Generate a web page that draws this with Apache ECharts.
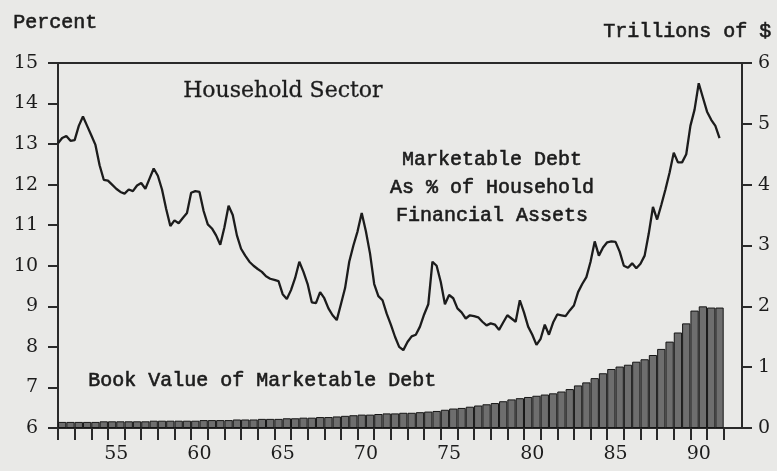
<!DOCTYPE html>
<html>
<head>
<meta charset="utf-8">
<script src="https://cdn.jsdelivr.net/npm/echarts@6/dist/echarts.min.js"></script>
<style>
  html, body { margin: 0; padding: 0; background: #e9e9e7; }
  #chart { width: 777px; height: 471px; }
</style>
</head>
<body>
<div id="chart"></div>
<script>
// Marketable debt as % of household financial assets (quarterly, 1952Q1 - 1991Q4)
var lineStartYear = 1952;
var debtSharePct = [
    13.02, 13.15, 13.20, 13.08,   // 1952
    13.10, 13.45, 13.68, 13.45,   // 1953
    13.22, 12.98, 12.48, 12.12,   // 1954
    12.10, 12.00, 11.90, 11.82,   // 1955
    11.78, 11.88, 11.84, 11.98,   // 1956
    12.04, 11.90, 12.15, 12.40,   // 1957
    12.22, 11.88, 11.40, 10.98,   // 1958
    11.12, 11.05, 11.18, 11.30,   // 1959
    11.80, 11.84, 11.82, 11.35,   // 1960
    11.02, 10.92, 10.75, 10.52,   // 1961
    10.95, 11.48, 11.25, 10.75,   // 1962
    10.42, 10.25, 10.10, 10.00,   // 1963
    9.92, 9.85, 9.74, 9.68,       // 1964
    9.65, 9.62, 9.30, 9.18,       // 1965
    9.40, 9.70, 10.10, 9.85,      // 1966
    9.55, 9.10, 9.08, 9.35,       // 1967
    9.20, 8.95, 8.78, 8.66,       // 1968
    9.05, 9.45, 10.10, 10.50,     // 1969
    10.85, 11.30, 10.85, 10.30,   // 1970
    9.55, 9.25, 9.15, 8.82,       // 1971
    8.55, 8.25, 8.00, 7.92,       // 1972
    8.12, 8.26, 8.30, 8.50,       // 1973
    8.80, 9.05, 10.10, 10.00,     // 1974
    9.60, 9.05, 9.28, 9.20,       // 1975
    8.95, 8.85, 8.70, 8.78,       // 1976
    8.76, 8.73, 8.62, 8.53,       // 1977
    8.58, 8.55, 8.42, 8.60,       // 1978
    8.78, 8.70, 8.62, 9.15,       // 1979
    8.85, 8.50, 8.30, 8.05,       // 1980
    8.20, 8.55, 8.30, 8.60,       // 1981
    8.80, 8.78, 8.76, 8.90,       // 1982
    9.02, 9.35, 9.55, 9.72,       // 1983
    10.10, 10.60, 10.25, 10.45,   // 1984
    10.58, 10.60, 10.59, 10.35,   // 1985
    10.00, 9.95, 10.06, 9.94,     // 1986
    10.05, 10.25, 10.80, 11.45,   // 1987
    11.14, 11.50, 11.88, 12.30,   // 1988
    12.79, 12.55, 12.55, 12.75,   // 1989
    13.45, 13.85, 14.50, 14.15,   // 1990
    13.80, 13.60, 13.45, 13.15    // 1991
];

// book value of marketable debt, trillions of $ (half-yearly, 1952H1 - 1991H2)
var barStartYear = 1952;
var bookValueTrn = [
    0.10, 0.10,  0.10, 0.10,  0.10, 0.11,  0.11, 0.11,  0.11, 0.11,   // 52-56
    0.11, 0.12,  0.12, 0.12,  0.12, 0.12,  0.12, 0.13,  0.13, 0.13,   // 57-61
    0.13, 0.14,  0.14, 0.14,  0.15, 0.15,  0.15, 0.16,  0.16, 0.17,   // 62-66
    0.17, 0.18,  0.18, 0.19,  0.20, 0.21,  0.22, 0.22,  0.23, 0.24,   // 67-71
    0.24, 0.25,  0.25, 0.26,  0.27, 0.28,  0.30, 0.32,  0.33, 0.35,   // 72-76
    0.37, 0.39,  0.41, 0.44,  0.47, 0.49,  0.51, 0.53,  0.55, 0.57,   // 77-81
    0.60, 0.64,  0.70, 0.75,  0.82, 0.90,  0.97, 1.01,  1.04, 1.09,   // 82-86
    1.13, 1.20,  1.30, 1.42,  1.57, 1.72,  1.93, 2.00,  1.98, 1.98    // 87-91
];

// axis ticks and labels
var tickYears = [];
for (var y = 1952; y <= 1992; y++) tickYears.push(y);
var labelYears = [1955, 1960, 1965, 1970, 1975, 1980, 1985, 1990];
var yearLabels = ['55', '60', '65', '70', '75', '80', '85', '90'];

var INK = '#1c1c1c';
var SERIF = '"DejaVu Serif", serif';
var MONO = '"Liberation Mono", monospace';

// typewriter-ish text: normal weight with a thin stroke to thicken it a bit
function typed(text, size) {
    return { text: text, font: size + 'px ' + MONO, fill: INK, stroke: INK, lineWidth: 0.6 };
}

var chart = echarts.init(document.getElementById('chart'));

var lineData = debtSharePct.map(function(v, i) {
    return [lineStartYear + i / 4, v];
});
var barData = bookValueTrn.map(function(v, i) {
    return [barStartYear + i / 2 + 0.25, v];
});

var noteStyle = typed('Marketable Debt\nAs % of Household\nFinancial Assets', 20);
noteStyle.align = 'center';
noteStyle.verticalAlign = 'top';
noteStyle.lineHeight = 28;

var option = {
    backgroundColor: '#e9e9e7',
    animation: false,
    grid: {
        left: 58,
        right: 35,
        top: 63,
        bottom: 43,
        show: true,
        borderColor: '#2a2a2a',
        borderWidth: 2
    },
    xAxis: {
        type: 'value',
        min: 1952,
        max: 1993.1,
        splitLine: { show: false },
        axisLine: { lineStyle: { color: '#2a2a2a', width: 2 } },
        axisTick: {
            customValues: tickYears,
            inside: false,
            length: 12,
            lineStyle: { color: '#2a2a2a', width: 2 }
        },
        axisLabel: {
            customValues: labelYears.map(function(y) { return y + 0.5; }),
            margin: 17,
            color: INK,
            fontFamily: SERIF,
            fontSize: 19,
            formatter: function(v) {
                var idx = labelYears.indexOf(Math.floor(v));
                return idx >= 0 ? yearLabels[idx] : '';
            }
        }
    },
    yAxis: [
        {
            type: 'value',
            position: 'left',
            min: 6,
            max: 15,
            interval: 1,
            splitLine: { show: false },
            axisLine: { show: true, lineStyle: { color: '#2a2a2a', width: 2 } },
            axisTick: { show: true, length: 10, lineStyle: { color: '#2a2a2a', width: 2 } },
            axisLabel: { margin: 20, color: INK, fontFamily: SERIF, fontSize: 19 }
        },
        {
            type: 'value',
            position: 'right',
            min: 0,
            max: 6,
            interval: 1,
            splitLine: { show: false },
            axisLine: { show: true, lineStyle: { color: '#2a2a2a', width: 2 } },
            axisTick: { show: true, length: 10, lineStyle: { color: '#2a2a2a', width: 2 } },
            axisLabel: { margin: 16, color: INK, fontFamily: SERIF, fontSize: 19 }
        }
    ],
    graphic: [
        { type: 'text', left: 13, top: 12, style: typed('Percent', 20) },
        { type: 'text', left: 603, top: 21, style: typed('Trillions of $', 20) },
        {
            type: 'text', left: 183, top: 80,
            style: { text: 'Household Sector', font: '22px ' + SERIF, fill: INK, stroke: INK, lineWidth: 0.3 }
        },
        { type: 'text', x: 492, y: 146, style: noteStyle },
        { type: 'text', left: 88, top: 370, style: typed('Book Value of Marketable Debt', 20) }
    ],
    series: [
        {
            name: 'Book Value',
            type: 'bar',
            xAxisIndex: 0,
            yAxisIndex: 1,
            barWidth: 8.3,
            data: barData,
            itemStyle: { color: '#6e6e6e', borderColor: '#161616', borderWidth: 1 },
            z: 2
        },
        {
            name: 'Marketable Debt %',
            type: 'line',
            xAxisIndex: 0,
            yAxisIndex: 0,
            showSymbol: false,
            data: lineData,
            lineStyle: { color: INK, width: 2.3 },
            z: 3
        }
    ]
};

chart.setOption(option);
</script>
</body>
</html>
